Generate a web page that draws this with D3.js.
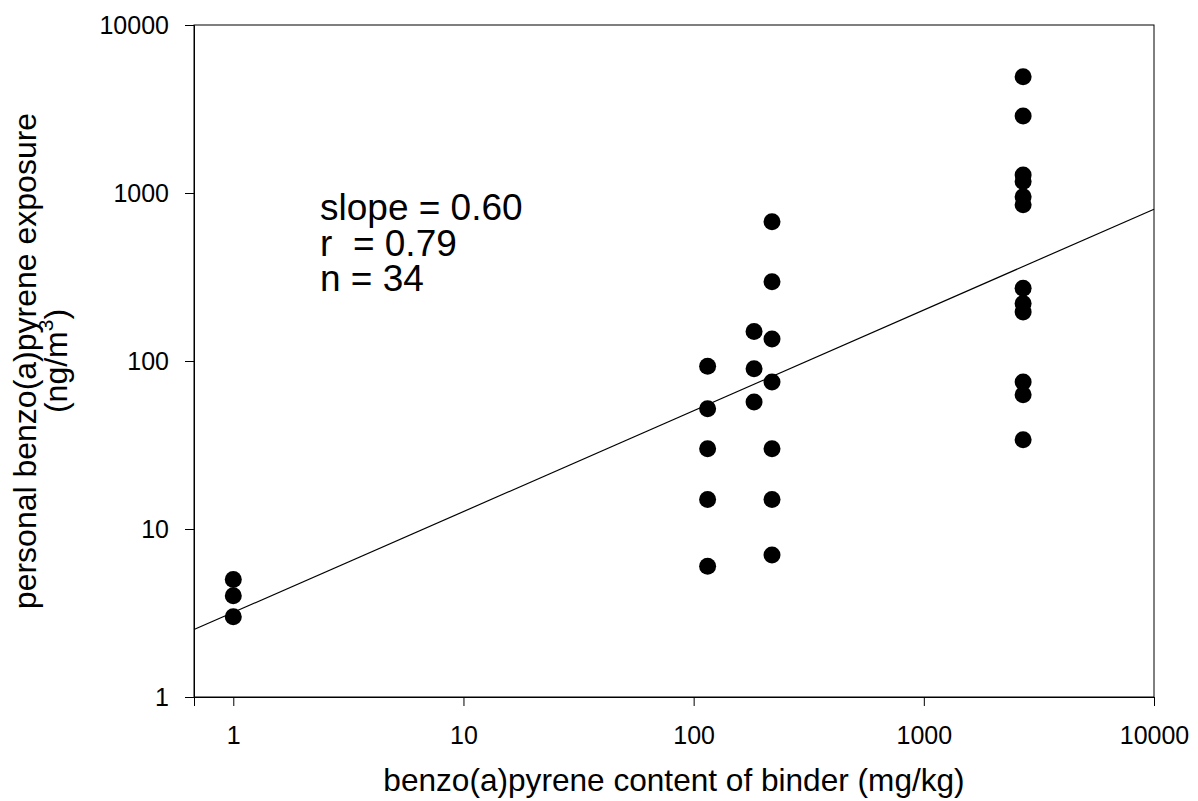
<!DOCTYPE html>
<html lang="en">
<head>
<meta charset="UTF-8">
<title>BaP exposure vs binder content</title>
<style>
    body { margin: 0; background: #fff; }
    text { font-family: "Liberation Sans", Arial, sans-serif; fill: #000; }
</style>
</head>
<body>
<script src="https://d3js.org/d3.v7.min.js"></script>
<script>
// binder content (mg/kg) and personal exposure (ng/m3)
const binderContent = [1, 1, 1,
    115, 115, 115, 115, 115,
    183, 183, 183,
    219, 219, 219, 219, 219, 219, 219,
    2700, 2700, 2700, 2700, 2700, 2700, 2700, 2700, 2700, 2700, 2700, 2700];
const exposure = [5, 4, 3,
    93, 52, 30, 15, 6,
    150, 90, 57,
    675, 296, 135, 75, 30, 15, 7,
    4920, 2870, 1280, 1170, 950, 850, 271, 220, 196, 75, 63, 34];

// regression line end points
const fitX = [0.675, 10000];
const fitY = [2.52, 801];

const xTicks = [1, 10, 100, 1000, 10000];
const yTicks = [1, 10, 100, 1000, 10000];
const statsLines = ["slope = 0.60", "r  = 0.79", "n = 34"];

const width = 1198, height = 801;
const plotLeft = 194, plotRight = 1154, plotTop = 25, plotBottom = 697;

const svg = d3.select("body").append("svg")
    .attr("width", width)
    .attr("height", height);

const x = d3.scaleLog().domain([0.675, 10000]).range([plotLeft, plotRight]);
const y = d3.scaleLog().domain([1, 10000]).range([plotBottom, plotTop]);

// frame
svg.append("rect")
    .attr("x", plotLeft).attr("y", plotTop)
    .attr("width", plotRight - plotLeft).attr("height", plotBottom - plotTop)
    .attr("fill", "none").attr("stroke", "#000").attr("stroke-width", 1);

const xAxis = svg.append("g")
    .attr("transform", `translate(0,${plotBottom})`)
    .call(d3.axisBottom(x).tickValues(xTicks).tickFormat(d3.format("d")).tickSize(9).tickPadding(14));
const yAxis = svg.append("g")
    .attr("transform", `translate(${plotLeft},0)`)
    .call(d3.axisLeft(y).tickValues(yTicks).tickFormat(d3.format("d")).tickSize(9).tickPadding(16));

[xAxis, yAxis].forEach(g => {
    g.select(".domain").attr("stroke", "#000");
    g.selectAll(".tick line").attr("stroke", "#000");
    g.selectAll(".tick text")
        .attr("font-family", "Liberation Sans, Arial, sans-serif")
        .attr("font-size", 25).attr("fill", "#000");
});
xAxis.selectAll(".tick text").attr("dy", "0.95em");
yAxis.selectAll(".tick text").attr("dy", "0.35em");

// regression line
svg.append("line")
    .attr("x1", x(fitX[0])).attr("y1", y(fitY[0]))
    .attr("x2", x(fitX[1])).attr("y2", y(fitY[1]))
    .attr("stroke", "#000").attr("stroke-width", 1.2);

// points
svg.append("g").selectAll("circle")
    .data(binderContent)
    .join("circle")
    .attr("cx", d => x(d))
    .attr("cy", (d, i) => y(exposure[i]))
    .attr("r", 8.5)
    .attr("fill", "#000");

// stats text
svg.append("g").selectAll("text")
    .data(statsLines)
    .join("text")
    .attr("x", 320)
    .attr("y", (d, i) => 220 + i * 35.5)
    .attr("font-size", 37)
    .style("white-space", "pre")
    .text(d => d);

// x label
svg.append("text")
    .attr("x", (plotLeft + plotRight) / 2)
    .attr("y", 791)
    .attr("text-anchor", "middle")
    .attr("font-size", 31.6)
    .text("benzo(a)pyrene content of binder (mg/kg)");

// y label, two lines
const yMid = (plotTop + plotBottom) / 2;
svg.append("text")
    .attr("transform", `translate(36,${yMid}) rotate(-90)`)
    .attr("text-anchor", "middle")
    .attr("font-size", 32)
    .text("personal benzo(a)pyrene exposure");

const unit = svg.append("text")
    .attr("transform", `translate(67,${yMid}) rotate(-90)`)
    .attr("text-anchor", "middle")
    .attr("font-size", 32);
unit.append("tspan").text("(ng/m");
unit.append("tspan").attr("font-size", 21).attr("dy", -14).text("3");
unit.append("tspan").attr("dy", 14).text(")");
</script>
</body>
</html>
